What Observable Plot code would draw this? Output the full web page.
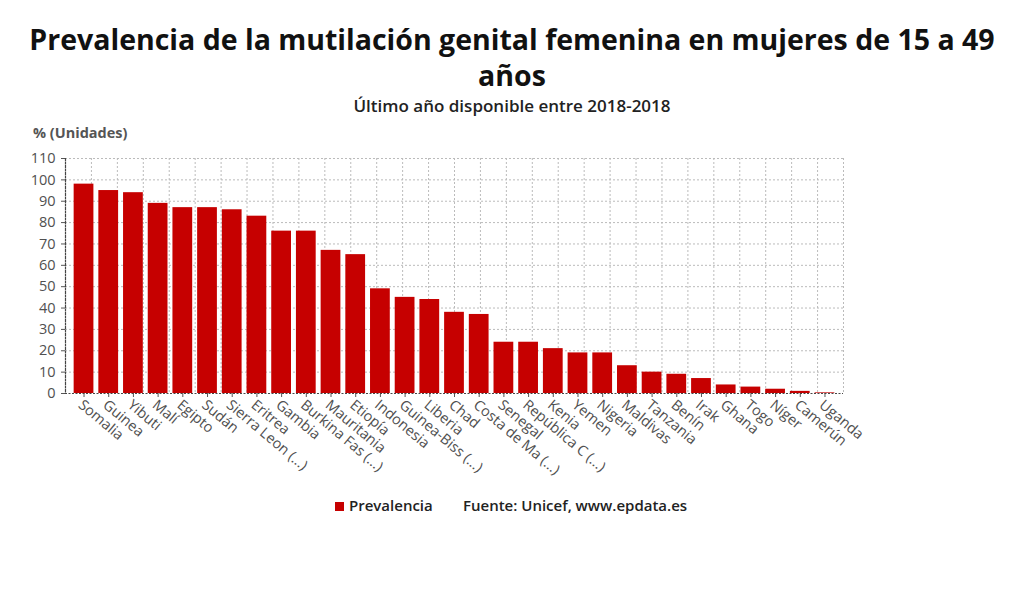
<!DOCTYPE html>
<html>
<head>
<meta charset="utf-8">
<script src="https://cdn.jsdelivr.net/npm/d3@7"></script>
<script src="https://cdn.jsdelivr.net/npm/@observablehq/plot@0.6"></script>
<style>
  body { margin: 0; background: #fff; font-family: "Open Sans", sans-serif; }
  #wrap { position: relative; width: 1024px; height: 601px; overflow: hidden; }
  #title { position: absolute; top: 21px; left: 0; width: 1024px; text-align: center;
           font-size: 28.5px; font-weight: 700; line-height: 36px; color: #111; }
  #subtitle { position: absolute; top: 94px; left: 0; width: 1024px; text-align: center;
           font-size: 17px; font-weight: 600; color: #222; }
  #unit { position: absolute; top: 123px; left: 33px; font-size: 14.5px; font-weight: 700; color: #555; }
  .layer { position: absolute; left: 0; top: 120px; width: 1024px; }
  #legend { position: absolute; top: 496px; left: 0; width: 1024px; font-size: 15px; font-weight: 600; color: #222; }
  #legend .sw { position: absolute; left: 335px; top: 6px; width: 9px; height: 9px; background: #c60000; }
  #legend .l1 { position: absolute; left: 349px; top: -1px; }
  #legend .l2 { position: absolute; left: 463px; top: -1px; }
</style>
</head>
<body>
<div id="wrap">
  <div id="title">Prevalencia de la mutilación genital femenina en mujeres de 15 a 49<br>años</div>
  <div id="subtitle">Último año disponible entre 2018-2018</div>
  <div id="unit">% (Unidades)</div>
  <div id="grid" class="layer"></div>
  <div id="bars" class="layer"></div>
  <div id="legend"><span class="sw"></span><span class="l1">Prevalencia</span><span class="l2">Fuente: Unicef, www.epdata.es</span></div>
</div>
<script>
const countries = ["Somalia","Guinea","Yibuti","Malí","Egipto","Sudán","Sierra Leon (...)","Eritrea","Gambia","Burkina Fas (...)","Mauritania","Etiopía","Indonesia","Guinea-Biss (...)","Liberia","Chad","Costa de Ma (...)","Senegal","República C (...)","Kenia","Yemen","Nigeria","Maldivas","Tanzania","Benín","Irak","Ghana","Togo","Níger","Camerún","Uganda"];
const values = [98,95,94,89,87,87,86,83,76,76,67,65,49,45,44,38,37,24,24,21,19,19,13,10,9,7,4,3,2,1,0.3];
const yTicks = [0,10,20,30,40,50,60,70,80,90,100,110];
const gridCols = d3.range(1, 31);

const data = countries.map((c, i) => ({country: c, value: values[i]}));

const W = 1024, H = 370;
const M = {top: 38, right: 181, bottom: 97, left: 65};
const font = {fontFamily: "Open Sans, sans-serif", fontSize: "14px", color: "#555", background: "transparent"};

const grid = Plot.plot({
  width: W, height: H,
  marginTop: M.top, marginRight: M.right, marginBottom: M.bottom, marginLeft: M.left,
  style: font,
  x: {domain: [0, 30], axis: null},
  y: {domain: [0, 110], axis: null},
  marks: [
    Plot.gridX(gridCols, {stroke: "#bbb", strokeOpacity: 1, strokeDasharray: "2,2"})
  ]
});
document.getElementById("grid").appendChild(grid);

const bars = Plot.plot({
  width: W, height: H,
  marginTop: M.top, marginRight: M.right, marginBottom: M.bottom, marginLeft: M.left,
  style: font,
  x: {domain: countries, paddingInner: 0.2, paddingOuter: 0.35, round: false, label: null},
  y: {domain: [0, 110], ticks: yTicks, label: null},
  marks: [
    Plot.gridY(yTicks.slice(1), {stroke: "#bbb", strokeOpacity: 1, strokeDasharray: "2,2"}),
    Plot.barY(data, {x: "country", y: "value", fill: "#c60000"}),
    Plot.axisX({tickRotate: 40, tickSize: 4, tickPadding: 1, lineAnchor: "top", textAnchor: "start",
                stroke: "#555", fill: "#505050", fontSize: 14.5, label: null}),
    Plot.axisY({ticks: yTicks, tickSize: 4, tickPadding: 6, stroke: "#555", fill: "#505050", fontSize: 14.5, label: null}),
    Plot.ruleY([0], {stroke: "#444", strokeDasharray: "2,1.5", strokeWidth: 1.2}),
    Plot.frame({anchor: "left", stroke: "#444", strokeDasharray: "2,1.5", strokeWidth: 1.2})
  ]
});
document.getElementById("bars").appendChild(bars);
</script>
</body>
</html>
